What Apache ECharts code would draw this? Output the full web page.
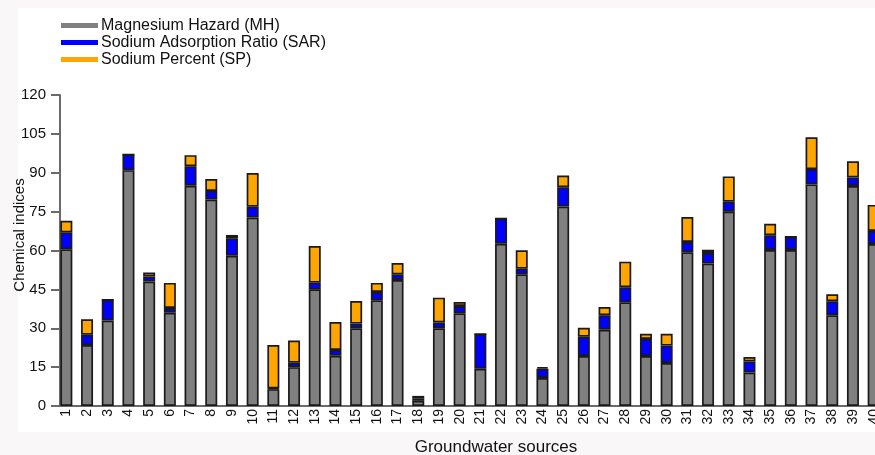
<!DOCTYPE html>
<html>
<head>
<meta charset="utf-8">
<script src="https://cdn.jsdelivr.net/npm/echarts@6/dist/echarts.min.js"></script>
<style>
  html, body { margin: 0; padding: 0; overflow: hidden; background: #f9f7f8; }
  #chart { width: 900px; height: 455px; }
</style>
</head>
<body>
<div id="chart"></div>
<script>
// Groundwater sources 1..40
const sources = Array.from({ length: 40 }, (_, i) => String(i + 1));

// Magnesium Hazard (MH)
const mh = [60.5, 23.5, 33, 91, 48, 36, 85, 79.7, 58, 72.7,
            6.5, 15, 45, 19.4, 30, 40.8, 48.6, 2, 30, 35.8,
            14.4, 62.6, 50.8, 10.8, 77, 19.3, 29.4, 40, 19.3, 16.6,
            59.3, 55, 75, 12.9, 60.2, 60.2, 85.5, 35, 84.9, 62.5];

// Sodium Adsorption Ratio (SAR)
const sar = [6.5, 4, 8, 6, 2, 1.8, 7.5, 3.3, 6.7, 4.2,
             0.3, 1.7, 2.6, 2.2, 1.8, 3.2, 2.2, 1, 2.2, 2.8,
             13.3, 9.7, 2.2, 3.6, 7.4, 7.4, 5.6, 5.8, 6.6, 6.7,
             4, 4, 3.8, 4.3, 5.7, 5.1, 5.9, 5.4, 3.3, 5];

// Sodium Percent (SP)
const sp = [4.5, 6, 0, 0, 1.5, 9.7, 4.3, 4.6, 1.3, 13,
            16.7, 8.6, 14.1, 10.8, 8.7, 3.5, 4.4, 0.9, 9.6, 1.5,
            0, 0, 7.1, 0.6, 4.5, 3.5, 3.2, 9.9, 2, 4.6,
            9.6, 1.3, 9.8, 1.7, 4.4, 0, 12.3, 2.7, 6.2, 10.1];

const FONT = '"Liberation Sans", Arial, sans-serif';
const axisColor = '#6a6a6a';

function barSeries(name, data, color) {
  return {
    name: name,
    type: 'bar',
    stack: 'indices',
    data: data,
    barWidth: 12,
    itemStyle: { color: color, borderColor: '#1a1a1a', borderWidth: 1.7 },
    emphasis: { disabled: true }
  };
}

const chart = echarts.init(document.getElementById('chart'), null, { renderer: 'canvas' });

chart.setOption({
  animation: false,
  backgroundColor: '#f9f7f8',
  textStyle: { fontFamily: FONT },
  graphic: [
    {
      type: 'rect', z: -10, silent: true,
      shape: { x: 18, y: 8, width: 900, height: 424 },
      style: { fill: '#ffffff' }
    },
    {
      type: 'text', silent: true,
      x: 20, y: 235, rotation: Math.PI / 2,
      style: {
        text: 'Chemical indices', font: '15px ' + FONT, fill: '#111',
        align: 'center', verticalAlign: 'middle'
      }
    },
    {
      type: 'text', silent: true,
      x: 496, y: 447,
      style: {
        text: 'Groundwater sources', font: '17px ' + FONT, fill: '#111',
        align: 'center', verticalAlign: 'middle'
      }
    }
  ],
  legend: {
    orient: 'vertical',
    left: 56, top: 12,
    icon: 'rect',
    itemWidth: 37, itemHeight: 5,
    itemGap: 0,
    itemStyle: { borderWidth: 0 },
    textStyle: { fontSize: 16, color: '#111', lineHeight: 17, padding: [0, 0, 0, -2] },
    data: ['Magnesium Hazard (MH)', 'Sodium Adsorption Ratio (SAR)', 'Sodium Percent (SP)']
  },
  grid: { left: 56, right: 16, top: 95, bottom: 49, containLabel: false },
  xAxis: {
    type: 'category',
    data: sources,
    axisLine: { lineStyle: { color: axisColor, width: 2 } },
    axisTick: { show: false },
    axisLabel: { interval: 0, rotate: 90, fontSize: 14, margin: 3, color: '#111' }
  },
  yAxis: {
    type: 'value',
    min: 0, max: 120, interval: 15,
    offset: -4,
    axisLine: { show: true, lineStyle: { color: axisColor, width: 2 } },
    axisTick: { show: true, length: 9, lineStyle: { color: axisColor, width: 2 } },
    axisLabel: { fontSize: 15, margin: 14, color: '#111' },
    splitLine: { show: false }
  },
  series: [
    barSeries('Magnesium Hazard (MH)', mh, '#808080'),
    barSeries('Sodium Adsorption Ratio (SAR)', sar, '#0000ff'),
    barSeries('Sodium Percent (SP)', sp, '#ffa500')
  ]
});
</script>
</body>
</html>
